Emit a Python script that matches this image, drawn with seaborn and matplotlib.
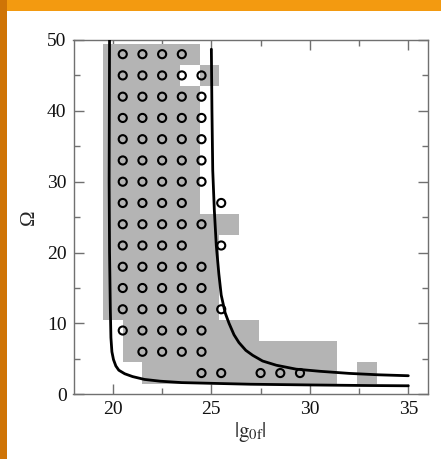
import matplotlib
matplotlib.use("Agg")
import matplotlib.pyplot as plt
import seaborn as sns
import pandas as pd
from matplotlib.patches import Rectangle

# ---- data ----
# gray cell segments (row centre, left edge, right edge)
seg_y  = [48, 45, 45, 42, 39, 36, 33, 30, 27, 24, 21, 18, 15, 12, 9, 6, 3, 3]
seg_x0 = [19.5, 19.5, 24.4, 19.5, 19.5, 19.5, 19.5, 19.5, 19.5, 19.5, 19.5, 19.5, 19.5, 19.5, 20.5, 20.5, 21.5, 32.4]
seg_x1 = [24.4, 23.4, 25.4, 24.4, 24.4, 24.4, 24.4, 24.4, 24.4, 26.4, 25.4, 25.4, 25.4, 25.4, 27.4, 31.4, 31.4, 33.4]

# open circles, row by row
row_y = [48, 45, 42, 39, 36, 33, 30, 27, 24, 21, 18, 15, 12, 9, 6, 3]
row_x = [
    [20.5, 21.5, 22.5, 23.5],
    [20.5, 21.5, 22.5, 23.5, 24.5],
    [20.5, 21.5, 22.5, 23.5, 24.5],
    [20.5, 21.5, 22.5, 23.5, 24.5],
    [20.5, 21.5, 22.5, 23.5, 24.5],
    [20.5, 21.5, 22.5, 23.5, 24.5],
    [20.5, 21.5, 22.5, 23.5, 24.5],
    [20.5, 21.5, 22.5, 23.5, 25.5],
    [20.5, 21.5, 22.5, 23.5, 24.5],
    [20.5, 21.5, 22.5, 23.5, 25.5],
    [20.5, 21.5, 22.5, 23.5, 24.5],
    [20.5, 21.5, 22.5, 23.5, 24.5],
    [20.5, 21.5, 22.5, 23.5, 24.5, 25.5],
    [20.5, 21.5, 22.5, 23.5, 24.5],
    [21.5, 22.5, 23.5, 24.5],
    [24.5, 25.5, 27.5, 28.5, 29.5],
]

# left boundary curve
left_x = [19.83, 19.82, 19.81, 19.83, 19.87, 19.90, 19.95, 20.03, 20.15, 20.30, 20.60,
          21.00, 21.60, 22.40, 23.50, 25.00, 27.00, 30.00, 32.50, 35.00]
left_y = [50.0, 40.0, 30.0, 20.0, 12.0, 8.0, 6.0, 4.9, 4.0, 3.4, 2.9,
          2.5, 2.1, 1.85, 1.65, 1.55, 1.42, 1.32, 1.25, 1.2]
# right boundary curve
right_x = [25.00, 25.03, 25.07, 25.15, 25.25, 25.38, 25.50, 25.70, 25.90, 26.15, 26.40,
           26.75, 27.10, 27.60, 28.30, 29.30, 30.50, 32.00, 33.50, 35.00]
right_y = [48.7, 40.0, 31.6, 26.0, 21.0, 17.0, 14.0, 11.5, 10.0, 8.4, 7.3,
           6.2, 5.5, 4.7, 4.1, 3.55, 3.25, 2.95, 2.75, 2.62]

x_ticks = [20, 25, 30, 35]
y_ticks = [0, 10, 20, 30, 40, 50]

# ---- plotting ----
sns.set_style("ticks")
plt.rcParams["font.family"] = ["Liberation Serif", "DejaVu Serif"]
plt.rcParams["mathtext.fontset"] = "stix"

fig = plt.figure(figsize=(4.41, 4.59), dpi=100)
fig.patch.set_facecolor("#f39a10")
fig.patches.append(Rectangle((0, 0), 7 / 441, 1, transform=fig.transFigure,
                             facecolor="#cf7406", edgecolor="none", zorder=-2))
fig.patches.append(Rectangle((7 / 441, 0), 1, 1 - 11 / 459, transform=fig.transFigure,
                             facecolor="white", edgecolor="none", zorder=-1))

ax = fig.add_axes([73.5 / 441, (459 - 394.3) / 459, (428 - 73.5) / 441, (394.3 - 40) / 459])
ax.set_facecolor("white")

seg = pd.DataFrame({"y": seg_y, "x0": seg_x0, "x1": seg_x1})
ax.barh(seg["y"], seg["x1"] - seg["x0"], left=seg["x0"], height=3,
        color="#b4b4b4", edgecolor="none", linewidth=0, zorder=1)

pts = pd.DataFrame({"x": [x for xs in row_x for x in xs],
                    "y": [y for y, xs in zip(row_y, row_x) for _ in xs]})
sns.scatterplot(data=pts, x="x", y="y", ax=ax, marker="o", s=34,
                facecolor="none", edgecolor="black", linewidth=1.5, zorder=3)

lc = pd.DataFrame({"x": left_x, "y": left_y})
rc = pd.DataFrame({"x": right_x, "y": right_y})
sns.lineplot(data=lc, x="x", y="y", ax=ax, sort=False, estimator=None,
             color="black", lw=2.0, zorder=4)
sns.lineplot(data=rc, x="x", y="y", ax=ax, sort=False, estimator=None,
             color="black", lw=2.0, zorder=4)

ax.set_xlim(18, 36)
ax.set_ylim(0, 50)
ax.set_xticks(x_ticks)
ax.set_yticks(y_ticks)
ax.set_xticks([22.5, 27.5, 32.5], minor=True)
ax.set_yticks([5, 15, 25, 35, 45], minor=True)
ax.tick_params(which="both", direction="in", top=True, right=True, color="#707070",
               width=1.0, labelsize=14, labelcolor="#111111", pad=5)
ax.tick_params(which="major", length=7.5)
ax.tick_params(which="minor", length=4)
for s in ax.spines.values():
    s.set_color("#707070")
    s.set_linewidth(1.0)
ax.set_xlabel(r"$|\mathrm{g}_{0\mathrm{f}}|$", fontsize=15, labelpad=1)
ax.set_ylabel("Ω", fontsize=15, labelpad=6)

fig.savefig("out.png", dpi=100, facecolor=fig.get_facecolor())
